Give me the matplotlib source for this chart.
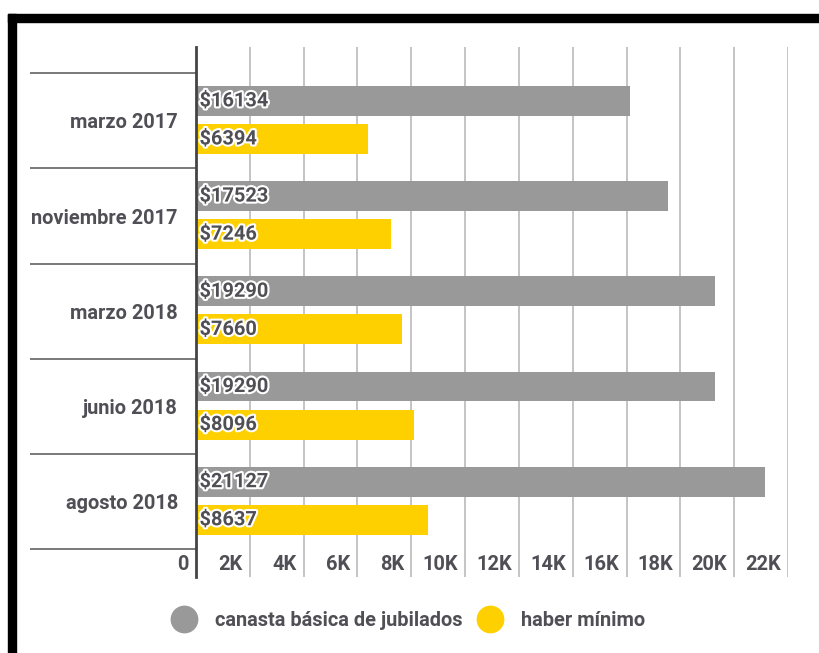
import matplotlib.pyplot as plt
import matplotlib.patheffects as pe
import matplotlib.transforms as mtransforms
from matplotlib.lines import Line2D
from matplotlib.patches import Rectangle

# Data
periods = ['marzo 2017', 'noviembre 2017', 'marzo 2018', 'junio 2018', 'agosto 2018']
canasta = [16134, 17523, 19290, 19290, 21127]
haber = [6394, 7246, 7660, 8096, 8637]
series_names = ['canasta básica de jubilados', 'haber mínimo']
xticks = [0, 2000, 4000, 6000, 8000, 10000, 12000, 14000, 16000, 18000, 20000, 22000]
xtick_labels = ['0', '2K', '4K', '6K', '8K', '10K', '12K', '14K', '16K', '18K', '20K', '22K']

GRAY = '#999999'
YELLOW = '#FFD000'
TXT = '#4f4f55'
FS = 14.4
FW = 'bold'

plt.rcParams['font.family'] = ['Roboto', 'DejaVu Sans']

W, H = 820, 653
fig = plt.figure(figsize=(W / 100, H / 100), dpi=100)
ax = fig.add_axes([196 / W, (H - 577) / H, (788 - 196) / W, 530 / H])

pos = list(range(len(periods)))
ax.barh([p - 0.21 for p in pos], canasta, height=0.315, color=GRAY, zorder=3)
ax.barh([p + 0.19 for p in pos], haber, height=0.315, color=YELLOW, zorder=3)

halo = [pe.withStroke(linewidth=3, foreground='white')]
for p, c, h in zip(pos, canasta, haber):
    ax.text(130, p - 0.21, '$%d' % c, va='center', ha='left', fontsize=FS,
            fontweight=FW, color=TXT, path_effects=halo, zorder=4)
    ax.text(130, p + 0.19, '$%d' % h, va='center', ha='left', fontsize=FS,
            fontweight=FW, color=TXT, path_effects=halo, zorder=4)

ax.set_xlim(0, 22000)
ax.set_ylim(4.5 + 0.291, -0.5 - 0.276)

# vertical grid lines
for v in xticks[1:]:
    ax.axvline(v, color='#c4c4c4', lw=1.4, zorder=1)

# x tick labels sit inside, just left of each grid line
ax.set_xticks([])
trans = mtransforms.blended_transform_factory(ax.transData, ax.transAxes)
for v, lab in zip(xticks, xtick_labels):
    t = mtransforms.offset_copy(trans, fig=fig, x=-7, y=0, units='dots')
    ax.text(v, 12 / 530, lab, transform=t, ha='right', va='center',
            fontsize=FS, fontweight=FW, color=TXT)

# category labels and separators
ax.set_yticks(pos)
ax.set_yticklabels(periods, fontsize=FS, fontweight=FW, color=TXT)
ax.set_yticks([p - 0.5 for p in pos] + [len(pos) - 0.5], minor=True)
ax.tick_params(axis='y', which='major', length=0, pad=13)
ax.tick_params(axis='y', which='minor', length=166 * 0.72, width=1.1,
               color='#555555')

for s in ['top', 'right', 'bottom']:
    ax.spines[s].set_visible(False)
ax.spines['left'].set_color('#444444')
ax.spines['left'].set_linewidth(2)
ax.spines['left'].set_zorder(5)

# legend
handles = [Line2D([], [], marker='o', ls='', markersize=19, color=GRAY),
           Line2D([], [], marker='o', ls='', markersize=19, color=YELLOW)]
leg = fig.legend(handles, series_names, loc='center', ncol=2,
                 bbox_to_anchor=(408 / W, 33 / H), frameon=False,
                 handlelength=1.3, handletextpad=0.9, columnspacing=0.7,
                 prop={'size': FS, 'weight': FW})
for t in leg.get_texts():
    t.set_color(TXT)

# black frame at top and left
fig.patches.append(Rectangle((8 / W, (H - 22) / H), 1, 8 / H,
                             transform=fig.transFigure, color='black'))
fig.patches.append(Rectangle((8 / W, 0), 8 / W, (H - 14) / H,
                             transform=fig.transFigure, color='black'))

fig.savefig('out.png', dpi=100)
